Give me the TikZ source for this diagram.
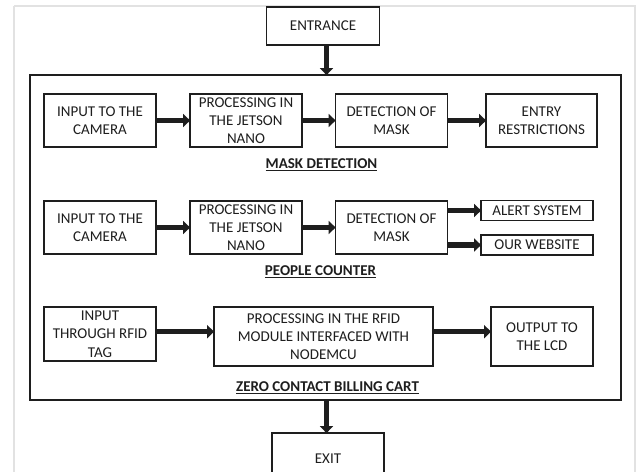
\documentclass[tikz,border=0pt]{standalone}
\usepackage{fontspec}
\setmainfont{Carlito}
\usetikzlibrary{arrows.meta}
\definecolor{ink}{HTML}{1E1E1E}
\definecolor{frame}{HTML}{E2E2E2}
\begin{document}
\begin{tikzpicture}[x=1pt,y=-1pt,
  box/.style={draw=ink, line width=1.8pt, inner sep=0pt, align=center, text=ink,
    font=\fontsize{15}{18.3}\selectfont},
  lab/.style={inner sep=0pt, text=ink, font=\fontsize{15}{18.3}\selectfont\bfseries},
  fat/.style={draw=ink, line width=5.5pt, -{Triangle[width=13pt,length=7pt]}, shorten >=-1pt}]
\useasboundingbox (0,0) rectangle (636,471);
\fill[white] (0,0) rectangle (636,471);
\draw[frame, line width=2.5pt] (14,6) -- (635,6) -- (635,490) (14,6) -- (14,490);

\node[box, minimum width=113pt, minimum height=38pt] (ent) at (323,26) {ENTRANCE};
\node[box, minimum width=591pt, minimum height=325pt] (main) at (325.3,237.5) {};

% row 1
\node[box, minimum width=112pt, minimum height=52.5pt] (r1a) at (100,120.5) {INPUT TO THE\\CAMERA};
\node[box, minimum width=112pt, minimum height=52.5pt] (r1b) at (246,120.5) {PROCESSING IN\\THE JETSON\\NANO};
\node[box, minimum width=112pt, minimum height=52.5pt] (r1c) at (391.5,120.5) {DETECTION OF\\MASK};
\node[box, minimum width=111pt, minimum height=52.5pt] (r1d) at (541.5,120.5) {ENTRY\\RESTRICTIONS};
\node[lab] (lmd) at (321.5,165) {\underline{MASK DETECTION}};

% row 2
\node[box, minimum width=112pt, minimum height=53.5pt] (r2a) at (100,227.5) {INPUT TO THE\\CAMERA};
\node[box, minimum width=112pt, minimum height=53.5pt] (r2b) at (246,227.5) {PROCESSING IN\\THE JETSON\\NANO};
\node[box, minimum width=112pt, minimum height=53.5pt] (r2c) at (391.5,227.5) {DETECTION OF\\MASK};
\node[box, minimum width=112pt, minimum height=20pt] (alert) at (537,210.5) {ALERT SYSTEM};
\node[box, minimum width=112pt, minimum height=20pt] (web) at (537,245) {OUR WEBSITE};
\node[lab] (lpc) at (320.5,271.5) {\underline{PEOPLE COUNTER}};

% row 3
\node[box, minimum width=112pt, minimum height=54pt] (r3a) at (100,334) {INPUT\\THROUGH RFID\\TAG};
\node[box, minimum width=219pt, minimum height=59pt] (r3b) at (323.5,336.5) {PROCESSING IN THE RFID\\MODULE INTERFACED WITH\\NODEMCU};
\node[box, minimum width=102pt, minimum height=59pt] (r3c) at (542,336.5) {OUTPUT TO\\THE LCD};
\node[lab] (lz) at (327.5,388) {\underline{ZERO CONTACT BILLING CART}};

\node[box, minimum width=112pt, minimum height=52pt] (exit) at (328,459) {EXIT};

% connectors
\draw[fat] (ent.south -| 326.5,0) -- (main.north -| 326.5,0);
\draw[fat] (r1a.east) -- (r1b.west);
\draw[fat] (r1b.east) -- (r1c.west);
\draw[fat] (r1c.east) -- (r1d.west);
\draw[fat] (r2a.east) -- (r2b.west);
\draw[fat] (r2b.east) -- (r2c.west);
\draw[fat] (r2c.east |- alert) -- (alert.west);
\draw[fat] (r2c.east |- web) -- (web.west);
\draw[fat] (r3a.east |- 0,331.7) -- (r3b.west |- 0,331.7);
\draw[fat] (r3b.east |- 0,331.7) -- (r3c.west |- 0,331.7);
\draw[fat] (main.south -| 326.5,0) -- (exit.north -| 326.5,0);
\end{tikzpicture}
\end{document}
